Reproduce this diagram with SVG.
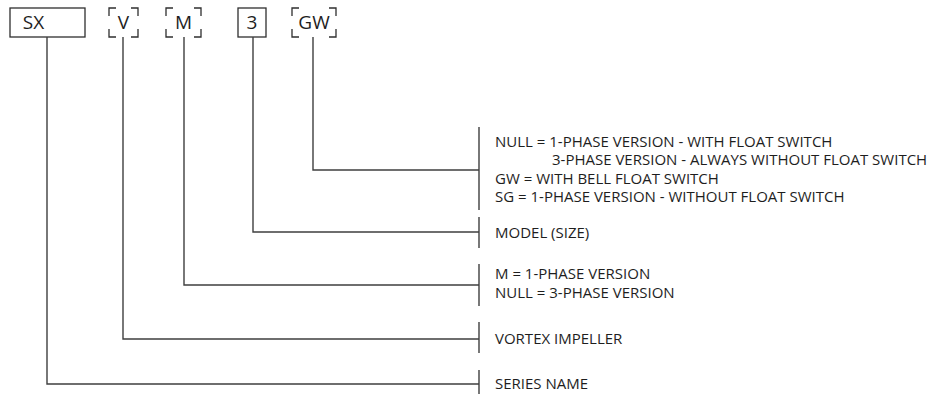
<svg xmlns="http://www.w3.org/2000/svg" width="929" height="394" viewBox="0 0 929 394">
<style>
.ln{stroke:#3f3f3f;stroke-width:1.4;fill:none}
.bx{stroke:#2f2f2f;stroke-width:1.3;fill:none}
.hd{font-family:"Open Sans","Noto Sans",sans-serif;font-size:19px;fill:#1e1e1e;text-anchor:middle}
.tx{font-family:"Open Sans","Noto Sans",sans-serif;font-size:15px;fill:#1e1e1e}
</style>
<rect width="929" height="394" fill="#fff"/>
<g id="node-sx">
<rect class="bx" x="10" y="8" width="75" height="29"/>
<text class="hd" x="33.5" y="29">SX</text>
</g>
<g id="node-v">
<path class="bx" d="M109 16V8H116M131 8H138V16M138 29V37H131M116 37H109V29"/>
<text class="hd" x="123.5" y="29">V</text>
</g>
<g id="node-m">
<path class="bx" d="M166 16V8H173M194 8H201V16M201 29V37H194M173 37H166V29"/>
<text class="hd" x="183.5" y="29">M</text>
</g>
<g id="node-3">
<rect class="bx" x="238" y="8" width="28" height="29"/>
<text class="hd" x="252" y="29">3</text>
</g>
<g id="node-gw">
<path class="bx" d="M292 16V8H299M329 8H336V16M336 29V37H329M299 37H292V29"/>
<text class="hd" x="314" y="29">GW</text>
</g>
<g id="connectors">
<path class="ln" d="M47 37V384H479"/>
<path class="ln" d="M123 37V339H479"/>
<path class="ln" d="M184 37V285H479"/>
<path class="ln" d="M253 37V232H479"/>
<path class="ln" d="M313 37V170H479"/>
<path class="ln" d="M479 127V210M479 217V248M479 264V306M479 322V353M479 370V398"/>
</g>
<g id="label-gw">
<text class="tx" x="495" y="147">NULL = 1-PHASE VERSION - WITH FLOAT SWITCH</text>
<text class="tx" x="552" y="165">3-PHASE VERSION - ALWAYS WITHOUT FLOAT SWITCH</text>
<text class="tx" x="495" y="184">GW = WITH BELL FLOAT SWITCH</text>
<text class="tx" x="495" y="202">SG = 1-PHASE VERSION - WITHOUT FLOAT SWITCH</text>
</g>
<g id="label-model">
<text class="tx" x="495" y="238">MODEL (SIZE)</text>
</g>
<g id="label-m">
<text class="tx" x="495" y="279">M = 1-PHASE VERSION</text>
<text class="tx" x="495" y="298">NULL = 3-PHASE VERSION</text>
</g>
<g id="label-v">
<text class="tx" x="495" y="344">VORTEX IMPELLER</text>
</g>
<g id="label-sx">
<text class="tx" x="495" y="389">SERIES NAME</text>
</g>
</svg>
